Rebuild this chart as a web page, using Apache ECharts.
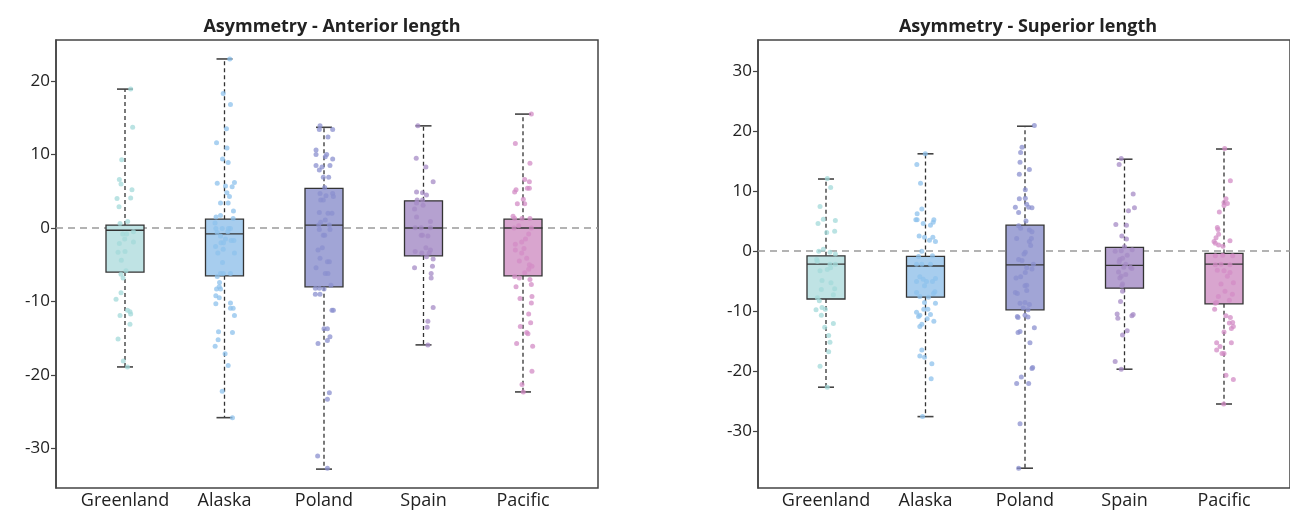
<!DOCTYPE html>
<html>
<head>
<meta charset="utf-8">
<script src="https://cdn.jsdelivr.net/npm/echarts@6/dist/echarts.min.js"></script>
<style>
html,body{margin:0;padding:0;background:#fff;}
#chart{width:1290px;height:512px;}
</style>
</head>
<body>
<div id="chart"></div>
<script>
// ---------- data ----------
const categories = ['Greenland', 'Alaska', 'Poland', 'Spain', 'Pacific'];
const titleLeft = 'Asymmetry - Anterior length';
const titleRight = 'Asymmetry - Superior length';
const ticksLeft = [-30, -20, -10, 0, 10, 20];
const ticksRight = [-30, -20, -10, 0, 10, 20, 30];

// [min, q1, median, q3, max]
const anteriorBoxes = [
  [-18.9, -6.0, -0.3, 0.4, 18.9],
  [-25.8, -6.5, -0.8, 1.2, 23.0],
  [-32.8, -8.0, 0.4, 5.4, 13.7],
  [-15.9, -3.8, 0.0, 3.7, 13.9],
  [-22.3, -6.5, 0.0, 1.2, 15.5]
];
const superiorBoxes = [
  [-22.7, -8.0, -2.2, -0.8, 12.0],
  [-27.6, -7.7, -2.5, -0.9, 16.2],
  [-36.2, -9.8, -2.3, 4.3, 20.8],
  [-19.7, -6.2, -2.4, 0.6, 15.3],
  [-25.5, -8.8, -2.2, -0.4, 17.0]
];

// individual observations: [jitter, value]
const antGreenland = [[0.057,18.9],[0.077,13.7],[-0.033,9.3],[-0.057,6.6],[-0.04,6.0],[0.07,5.2],[-0.08,4.0],[0.057,4.1],[-0.06,2.9],[-0.05,0.6],[0.027,0.9],[-0.023,-0.8],[0.017,-0.8],[-0.003,-1.5],[-0.057,-2.1],[0.085,-1.9],[0.085,-0.5],[-0.07,-3.3],[0,-3.2],[-0.037,-4.4],[0.01,-5.8],[-0.04,-6.3],[-0.02,-6.8],[-0.04,-8.8],[-0.09,-9.7],[0.025,-11.2],[0.05,-11.4],[0.057,-11.7],[-0.05,-11.9],[0.05,-13.1],[-0.07,-15.1],[-0.017,-18.1],[0.025,-18.9]];
const antAlaska = [[0.053,23.0],[-0.013,18.3],[0.06,16.8],[0.02,13.5],[-0.08,11.6],[0.025,10.9],[-0.02,9.4],[0.037,8.9],[-0.073,6.1],[0.01,5.7],[0.077,5.6],[0.1,6.2],[0.024,4.8],[0.05,4.3],[-0.04,3.4],[0.037,3.4],[0.09,2.3],[-0.04,1.7],[-0.085,1.5],[0.087,1.3],[-0.095,0.7],[-0.087,-0.05],[-0.023,-0.05],[0.04,-0.05],[0.06,-0.05],[-0.074,-0.6],[0.033,-0.5],[-0.04,-1.1],[0.01,-1.5],[-0.035,-2.0],[-0.01,-2.0],[0.094,-1.7],[0.067,-1.7],[-0.09,-2.5],[-0.013,-2.9],[-0.067,-3.4],[0.1,-3.4],[-0.02,-4.7],[-0.04,-6.2],[-0.013,-6.2],[0.06,-6.2],[-0.073,-6.6],[-0.05,-7.4],[-0.08,-8.3],[-0.04,-8.3],[-0.053,-8.0],[-0.087,-9.2],[-0.053,-9.5],[-0.087,-10.3],[0.06,-10.2],[0.06,-10.9],[0.087,-10.9],[0.1,-11.9],[-0.06,-14.1],[0.08,-14.2],[-0.064,-15.2],[-0.094,-16.1],[0.006,-17.1],[0.037,-18.7],[-0.023,-22.2],[0.08,-25.8]];
const antPoland = [[-0.04,13.9],[-0.047,13.4],[0.087,13.4],[0.04,12.4],[-0.08,10.6],[-0.08,10.0],[0.027,10.0],[0.013,9.7],[0.087,9.4],[-0.08,8.5],[-0.02,8.3],[-0.047,7.9],[0.06,8.5],[-0.007,6.9],[0.047,6.9],[0.007,5.5],[-0.04,4.7],[0.02,4.4],[0.087,4.7],[0.094,4.3],[-0.033,3.8],[-0.007,3.8],[-0.047,2.1],[0.04,2.0],[0.08,2.0],[0.013,1.1],[-0.033,0.8],[-0.053,0.4],[0.054,0.4],[-0.047,-0.2],[0.06,-0.2],[-0.007,-1.0],[0.007,-1.0],[-0.017,-2.7],[-0.06,-3.0],[-0.04,-4.1],[0.034,-4.6],[0.054,-4.6],[-0.08,-5.4],[0.013,-6.2],[0.04,-6.2],[-0.087,-8.2],[-0.047,-8.2],[0.0,-8.3],[0.07,-7.8],[-0.087,-9.0],[-0.04,-9.0],[0.08,-11.2],[0.094,-11.2],[0.0,-13.7],[0.034,-13.7],[0.06,-14.8],[0.034,-15.3],[-0.06,-15.7],[0.054,-22.4],[0.034,-23.3],[-0.064,-31.0],[0.034,-32.7]];
const antSpain = [[-0.057,13.9],[-0.073,9.5],[0.024,8.3],[0.097,6.3],[-0.07,4.9],[-0.01,4.8],[0.03,4.5],[-0.064,3.8],[-0.01,3.8],[-0.07,3.4],[-0.004,3.1],[-0.09,2.6],[-0.07,1.5],[0.07,0.9],[-0.084,0.05],[-0.023,0.05],[0.07,0.05],[-0.023,-1.0],[-0.01,-1.0],[0.044,-1.1],[0.024,-2.7],[0.07,-3.0],[0.057,-3.4],[-0.084,-3.2],[-0.017,-3.4],[0.03,-3.9],[0.097,-4.2],[0.09,-5.2],[-0.09,-5.4],[0.077,-6.2],[0.077,-6.8],[0.097,-10.8],[0.044,-12.7],[0.037,-13.5],[0.044,-15.9]];
const antPacific = [[0.084,15.5],[-0.077,11.5],[0.07,8.8],[0.017,6.6],[0.064,6.3],[-0.084,4.9],[-0.07,5.2],[0.044,5.4],[0.064,5.4],[0.003,3.9],[-0.057,3.3],[0.017,3.3],[-0.1,1.6],[-0.084,1.3],[-0.01,1.3],[0.07,1.3],[-0.043,0.3],[-0.09,0.0],[0.084,0.0],[0.057,-0.8],[0.025,-1.5],[-0.013,-1.9],[-0.077,-2.2],[0.01,-2.8],[-0.077,-3.0],[-0.013,-3.4],[0.037,-4.1],[-0.037,-4.5],[0.064,-5.0],[0.09,-5.2],[0.057,-5.6],[0.017,-6.1],[-0.084,-6.6],[-0.037,-6.8],[0.07,-7.0],[0.084,-7.7],[-0.07,-8.0],[0.09,-9.3],[-0.03,-9.6],[0.084,-10.2],[0.057,-11.7],[0.077,-12.9],[-0.027,-13.4],[0.037,-14.2],[0.05,-14.4],[-0.064,-15.7],[0.097,-16.1],[0.09,-19.5],[-0.01,-21.3],[0.003,-22.3]];

const supGreenland = [[0.013,12.1],[0.047,10.6],[-0.06,7.4],[-0.027,5.3],[0.094,5.1],[-0.08,4.6],[0.087,3.3],[0.007,3.1],[-0.027,0.3],[-0.073,-0.05],[0.04,-0.2],[0.094,-0.5],[-0.094,-1.4],[-0.087,-1.7],[0.04,-2.2],[0.094,-2.2],[-0.06,-3.3],[0.013,-3.1],[0.047,-2.8],[-0.04,-4.9],[0.05,-5.3],[-0.047,-6.4],[0.087,-6.3],[0.074,-7.3],[-0.087,-7.8],[-0.067,-8.3],[-0.04,-9.4],[-0.007,-9.7],[-0.1,-9.8],[-0.047,-10.7],[0.074,-12.1],[-0.013,-12.7],[0.027,-14.1],[0.04,-15.2],[0.027,-16.8],[-0.06,-19.2],[0.013,-22.7]];
const supAlaska = [[-0.002,16.2],[-0.087,14.4],[-0.05,11.3],[-0.037,7.0],[-0.084,6.2],[-0.097,5.2],[-0.084,5.2],[-0.023,4.6],[0.084,5.2],[0.077,4.8],[0.05,4.3],[-0.064,2.5],[-0.01,2.3],[0.074,2.3],[0.04,1.8],[0.1,1.6],[-0.037,-0.05],[-0.07,-0.9],[0.07,-0.8],[-0.09,-2.2],[-0.037,-2.2],[0.05,-2.2],[-0.057,-4.3],[-0.023,-4.7],[-0.09,-5.1],[0.01,-5.1],[0.07,-5.1],[-0.01,-5.8],[0.1,-4.6],[0.094,-6.8],[0.08,-7.1],[-0.09,-6.9],[-0.057,-7.6],[0.03,-7.7],[-0.01,-8.6],[0.1,-8.7],[-0.017,-9.7],[0.024,-9.7],[-0.09,-10.2],[0.05,-10.6],[-0.07,-10.9],[-0.057,-10.7],[0.017,-11.3],[0.084,-11.7],[-0.037,-12.2],[-0.057,-12.6],[-0.037,-16.5],[-0.057,-17.5],[-0.01,-17.7],[0.064,-18.8],[0.057,-21.3],[-0.03,-27.6]];
const supPoland = [[0.094,20.9],[-0.03,17.3],[-0.044,16.4],[-0.05,14.8],[-0.057,12.8],[0.044,13.6],[0.003,10.2],[-0.057,8.7],[0.003,8.8],[-0.097,7.3],[-0.064,6.4],[0.017,7.8],[0.037,7.3],[0.07,7.2],[0.01,5.0],[-0.064,4.2],[-0.044,3.8],[0.044,3.5],[0.07,3.2],[-0.084,2.1],[0.044,1.6],[0.064,2.1],[0.057,0.9],[0.003,-0.2],[-0.01,-0.5],[-0.064,-1.4],[-0.03,-1.6],[0.084,-2.2],[0.07,-3.0],[0.017,-2.8],[0.003,-3.6],[-0.044,-4.3],[-0.09,-4.5],[0.0,-5.8],[0.017,-5.7],[0.017,-6.6],[-0.097,-6.9],[-0.077,-7.1],[-0.05,-8.7],[0.0,-8.6],[0.044,-8.9],[-0.017,-9.5],[0.03,-9.8],[-0.077,-10.9],[-0.07,-11.1],[0.0,-10.7],[0.03,-11.0],[0.094,-12.8],[-0.07,-13.6],[-0.05,-13.4],[0.05,-15.3],[0.07,-19.6],[0.077,-19.4],[-0.037,-21.0],[-0.084,-22.1],[0.037,-22.1],[-0.05,-28.8],[-0.064,-36.2]];
const supSpain = [[-0.033,15.4],[-0.054,14.4],[0.087,9.5],[0.1,7.2],[0.04,6.7],[-0.087,4.4],[0.02,4.3],[-0.027,2.5],[0.02,2.0],[0.0,0.7],[-0.094,-0.05],[-0.033,0.05],[0.077,0.2],[0.027,-0.7],[-0.047,-1.4],[-0.02,-1.2],[-0.054,-1.8],[0.013,-2.2],[-0.007,-2.7],[0.06,-2.7],[0.074,-2.9],[-0.06,-3.5],[0.013,-3.9],[-0.033,-4.2],[-0.047,-4.5],[-0.02,-5.5],[-0.027,-5.8],[-0.02,-6.7],[-0.04,-8.4],[-0.074,-10.5],[-0.067,-11.2],[0.074,-10.8],[0.087,-10.6],[0.027,-13.3],[-0.02,-14.0],[-0.094,-18.4],[-0.033,-19.7]];
const supPacific = [[0.007,17.1],[0.064,11.7],[0.02,8.7],[0.0,8.1],[0.034,7.9],[0.0,7.6],[-0.047,6.5],[-0.067,3.9],[-0.06,3.6],[-0.054,2.8],[-0.08,2.2],[-0.1,1.6],[-0.087,1.3],[0.06,1.7],[-0.01,0.8],[-0.054,1.0],[-0.087,-0.8],[-0.013,-0.7],[0.087,-0.8],[-0.087,-2.3],[-0.03,-2.2],[0.06,-2.3],[-0.067,-3.2],[0.0,-3.3],[0.06,-3.6],[0.034,-4.2],[0.094,-5.3],[-0.03,-5.5],[0.01,-6.7],[0.084,-7.2],[-0.057,-7.6],[0.054,-8.2],[-0.087,-8.7],[-0.074,-8.6],[-0.094,-9.7],[0.02,-10.8],[0.064,-11.1],[0.054,-12.0],[0.087,-11.9],[0.094,-12.6],[0.074,-12.9],[0.0,-13.5],[-0.074,-15.3],[0.074,-15.3],[-0.04,-15.9],[-0.074,-16.5],[-0.02,-17.1],[0.0,-17.1],[0.02,-20.7],[0.094,-21.4],[-0.003,-25.5]];

const anteriorPoints = [antGreenland, antAlaska, antPoland, antSpain, antPacific];
const superiorPoints = [supGreenland, supAlaska, supPoland, supSpain, supPacific];

// ---------- styles ----------
const boxFill = ['#bfe3e4', '#a7cdee', '#a1a5d6', '#b5a1d0', '#d9a5cf'];
const dotColor = ['#a3d9d9', '#8ec2ec', '#8b90cf', '#a58bc6', '#d38cc6'];
const FONT = 'Open Sans';

const chart = echarts.init(document.getElementById('chart'));

function renderBox(fills) {
  return function (params, api) {
    const i = api.value(0);
    const lo = api.coord([i, api.value(1)]);
    const q1 = api.coord([i, api.value(2)]);
    const md = api.coord([i, api.value(3)]);
    const q3 = api.coord([i, api.value(4)]);
    const hi = api.coord([i, api.value(5)]);
    const cx = lo[0];
    const hw = 19, cw = 8;
    const dash = {stroke: '#333', lineWidth: 1.3, lineDash: [4, 3]};
    const cap = {stroke: '#444', lineWidth: 1.6};
    return {
      type: 'group',
      children: [
        {type: 'line', shape: {x1: cx, y1: q3[1], x2: cx, y2: hi[1]}, style: dash},
        {type: 'line', shape: {x1: cx, y1: q1[1], x2: cx, y2: lo[1]}, style: dash},
        {type: 'line', shape: {x1: cx - cw, y1: hi[1], x2: cx + cw, y2: hi[1]}, style: cap},
        {type: 'line', shape: {x1: cx - cw, y1: lo[1], x2: cx + cw, y2: lo[1]}, style: cap},
        {type: 'rect', shape: {x: cx - hw, y: q3[1], width: 2 * hw, height: q1[1] - q3[1]},
          style: {fill: fills[params.dataIndex], stroke: '#333', lineWidth: 1.3}},
        {type: 'line', shape: {x1: cx - hw, y1: md[1], x2: cx + hw, y2: md[1]}, style: {stroke: '#333', lineWidth: 1.3}}
      ]
    };
  };
}

function panel(idx, frame, data, yMin, yMax, ticks) {
  const grids = [
    {left: frame.left, right: frame.right, top: 40, bottom: 24, show: true, borderColor: '#444', borderWidth: 1.5, backgroundColor: 'transparent'},
    {left: data.left, right: data.right, top: 40, bottom: 24}
  ];
  const g0 = idx * 2, g1 = idx * 2 + 1;
  const xAxes = [
    {gridIndex: g0, type: 'value', min: 0, max: 1, show: false},
    {gridIndex: g1, type: 'category', data: categories, boundaryGap: true,
      axisLine: {show: false}, axisTick: {show: false}, splitLine: {show: false},
      axisLabel: {interval: 0, fontFamily: FONT, fontSize: 18, color: '#222', margin: 4}},
    {gridIndex: g1, type: 'value', min: -0.5, max: 4.5, show: false}
  ];
  const yAxes = [
    {gridIndex: g0, type: 'value', min: yMin, max: yMax, splitLine: {show: false},
      axisLine: {show: true, lineStyle: {color: '#444', width: 1.5}},
      axisTick: {show: true, length: 5, customValues: ticks, lineStyle: {color: '#444', width: 1.2}},
      axisLabel: {customValues: ticks, fontFamily: FONT, fontSize: 17, color: '#222', margin: 6}},
    {gridIndex: g1, type: 'value', min: yMin, max: yMax, show: false}
  ];
  return {grids, xAxes, yAxes};
}

const L = panel(0, {left: 56, right: 692}, {left: 75.25, right: 717.25}, -35.37, 25.58, ticksLeft);
const R = panel(1, {left: 758, right: -9}, {left: 776.25, right: 16.25}, -39.5, 35.17, ticksRight);

const xAxis = [...L.xAxes, ...R.xAxes];
const yAxis = [...L.yAxes, ...R.yAxes];

const series = [];
function addPanel(xf, yf, xv, yd, boxes, points) {
  series.push({
    type: 'line', xAxisIndex: xf, yAxisIndex: yf, data: [[0, 0], [1, 0]], showSymbol: false, silent: true,
    lineStyle: {color: '#9a9a9a', width: 1.3, type: [7, 5]}, z: 1
  });
  series.push({
    type: 'custom', xAxisIndex: xv, yAxisIndex: yd, renderItem: renderBox(boxFill), z: 2,
    encode: {x: 0, y: [1, 2, 3, 4, 5]},
    data: boxes.map((b, i) => [i, ...b])
  });
  points.forEach((pts, i) => {
    series.push({
      type: 'scatter', xAxisIndex: xv, yAxisIndex: yd, symbolSize: 5, z: 3, silent: true,
      itemStyle: {color: dotColor[i], opacity: 0.75},
      data: pts.map(p => [i + p[0], p[1]])
    });
  });
}
addPanel(0, 0, 2, 1, anteriorBoxes, anteriorPoints);
addPanel(3, 2, 5, 3, superiorBoxes, superiorPoints);

chart.setOption({
  animation: false,
  backgroundColor: '#fff',
  title: [
    {text: titleLeft, left: 327, top: 13, textAlign: 'center',
      textStyle: {fontFamily: FONT, fontSize: 18, fontWeight: 'bold', color: '#222'}},
    {text: titleRight, left: 1023, top: 13, textAlign: 'center',
      textStyle: {fontFamily: FONT, fontSize: 18, fontWeight: 'bold', color: '#222'}}
  ],
  grid: [...L.grids, ...R.grids],
  xAxis, yAxis, series
});
</script>
</body>
</html>
